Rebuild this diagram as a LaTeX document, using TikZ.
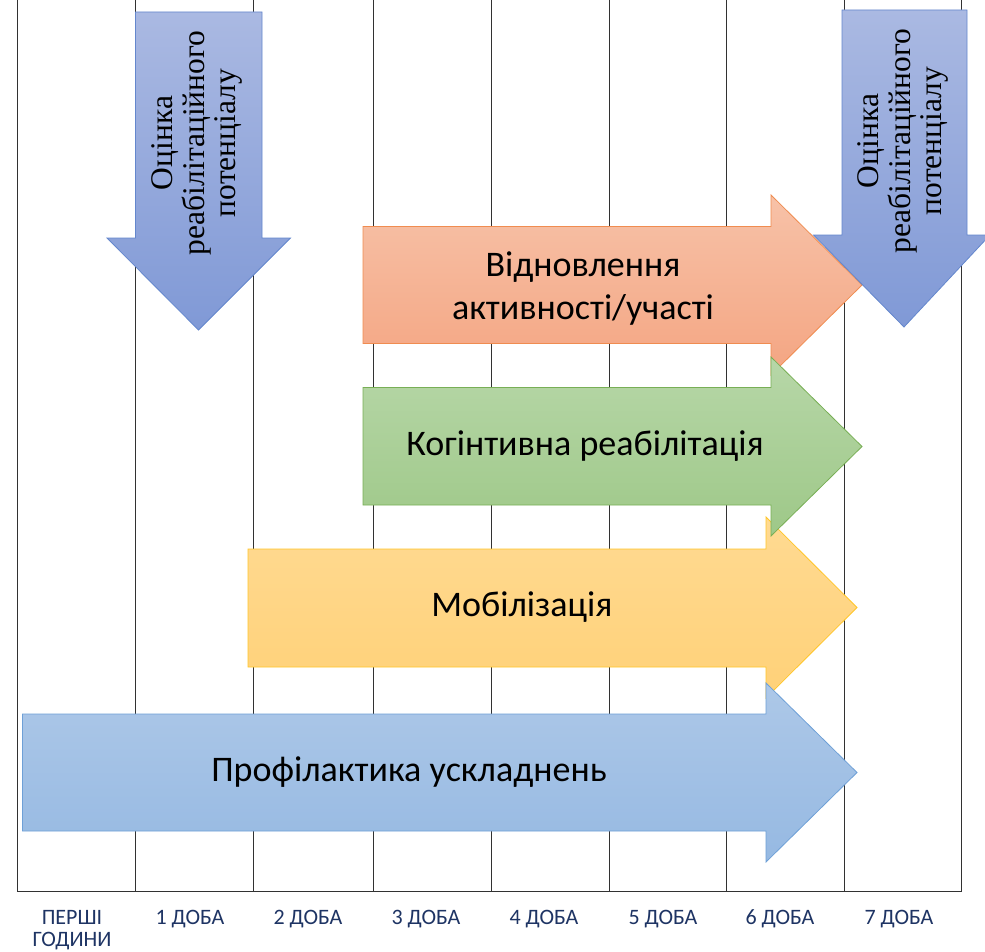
\documentclass[tikz,border=0pt]{standalone}
\usepackage{fontspec}
\setmainfont{Carlito}
\newfontfamily\timesf{Liberation Serif}
\definecolor{gridc}{RGB}{50,50,50}
\definecolor{lblc}{RGB}{30,52,100}
\definecolor{bdTop}{RGB}{170,185,226}
\definecolor{bdBot}{RGB}{128,153,214}
\definecolor{bdLine}{RGB}{100,135,205}
\definecolor{orTop}{RGB}{247,194,168}
\definecolor{orBot}{RGB}{244,165,130}
\definecolor{orLine}{RGB}{240,140,80}
\definecolor{grTop}{RGB}{183,215,168}
\definecolor{grBot}{RGB}{158,200,136}
\definecolor{grLine}{RGB}{120,175,85}
\definecolor{ylTop}{RGB}{255,218,146}
\definecolor{ylBot}{RGB}{255,209,120}
\definecolor{ylLine}{RGB}{255,198,40}
\definecolor{lbTop}{RGB}{173,200,232}
\definecolor{lbBot}{RGB}{150,185,226}
\definecolor{lbLine}{RGB}{110,160,215}
\tikzset{
  gridline/.style={draw=gridc, line width=1.4pt},
  arrowtxt/.style={font=\fontsize{36}{43}\selectfont, align=center, text=black},
  downtxt/.style={font=\timesf\fontsize{31.5}{31.5}\selectfont, align=center, rotate=90, text=black},
  daylbl/.style={font=\fontsize{22}{24}\selectfont, text=lblc, align=center, anchor=base},
  bluedown/.style={top color=bdTop, bottom color=bdBot, draw=bdLine, line width=0.8pt},
  orangear/.style={top color=orTop, bottom color=orBot, draw=orLine, line width=0.8pt},
  greenar/.style={top color=grTop, bottom color=grBot, draw=grLine, line width=0.8pt},
  yellowar/.style={top color=ylTop, bottom color=ylBot, draw=ylLine, line width=0.8pt},
  lightbluear/.style={top color=lbTop, bottom color=lbBot, draw=lbLine, line width=0.8pt},
}
\begin{document}
\begin{tikzpicture}[x=1pt,y=-1pt]
\useasboundingbox[fill=white] (0,0) rectangle (985,952);
% grid
\foreach \gx in {17.5,135.7,253.3,373.3,491.7,609.3,726.7,844.3,961.7}{
  \draw[gridline] (\gx,0) -- (\gx,891.7);
}
\draw[gridline] (17.5,891.7) -- (961.7,891.7);
% day labels
\node[daylbl] (d0) at (72,924) {ПЕРШІ};
\node[daylbl] (d0b) at (72,946) {ГОДИНИ};
\node[daylbl] (d1) at (190,924) {1 ДОБА};
\node[daylbl] (d2) at (308,924) {2 ДОБА};
\node[daylbl] (d3) at (426,924) {3 ДОБА};
\node[daylbl] (d4) at (544,924) {4 ДОБА};
\node[daylbl] (d5) at (663,924) {5 ДОБА};
\node[daylbl] (d6) at (780,924) {6 ДОБА};
\node[daylbl] (d7) at (899,924) {7 ДОБА};
% yellow arrow
\shade[yellowar] (248,549) -- (766,549) -- (766,517) -- (857,607.5) -- (766,698) -- (766,667) -- (248,667) -- cycle;
% light blue arrow
\shade[lightbluear] (22.5,714) -- (766,714) -- (766,683) -- (857,772.5) -- (766,862) -- (766,831) -- (22.5,831) -- cycle;
% orange arrow
\shade[orangear] (363,226.5) -- (771,226.5) -- (771,195) -- (862,285) -- (771,375) -- (771,343.5) -- (363,343.5) -- cycle;
% green arrow
\shade[greenar] (363,387.5) -- (771,387.5) -- (771,357) -- (862,446.5) -- (771,536) -- (771,505) -- (363,505) -- cycle;
% down arrows
\shade[bluedown] (135.5,12) -- (262,12) -- (262,238) -- (290.5,238) -- (198.5,330) -- (107,238) -- (135.5,238) -- cycle;
\shade[bluedown] (842,10) -- (967,10) -- (967,235) -- (990,235) -- (904,327) -- (813.5,235) -- (842,235) -- cycle;
% texts
\node[arrowtxt] (t1) at (583,289) {Відновлення\\активності/участі};
\node[arrowtxt] (t2) at (585,446.5) {Когінтивна реабілітація};
\node[arrowtxt] (t3) at (522,607.5) {Мобілізація};
\node[arrowtxt] (t4) at (409,772.5) {Профілактика ускладнень};
\node[downtxt] (o1) at (197,143) {Оцінка\\реабілітаційного\\потенціалу};
\node[downtxt] (o2) at (903,141) {Оцінка\\реабілітаційного\\потенціалу};
\end{tikzpicture}
\end{document}
